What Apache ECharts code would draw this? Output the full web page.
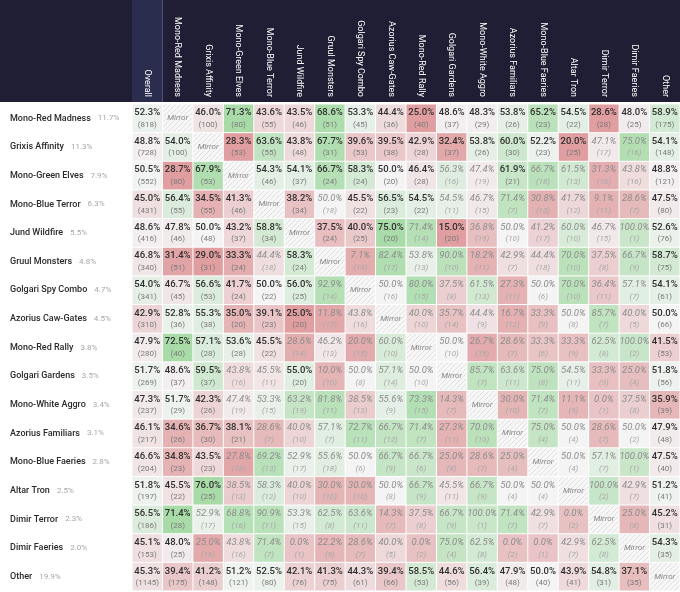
<!DOCTYPE html>
<html>
<head>
<meta charset="utf-8">
<script src="https://cdn.jsdelivr.net/npm/echarts@6/dist/echarts.min.js"></script>
<style>
  html, body { margin: 0; padding: 0; background: #fff; }
  #chart { width: 680px; height: 592px; }
</style>
</head>
<body>
<div id="chart"></div>
<script>
const decks = [
  'Mono-Red Madness', 'Grixis Affinity', 'Mono-Green Elves', 'Mono-Blue Terror',
  'Jund Wildfire', 'Gruul Monsters', 'Golgari Spy Combo', 'Azorius Caw-Gates',
  'Mono-Red Rally', 'Golgari Gardens', 'Mono-White Aggro', 'Azorius Familiars',
  'Mono-Blue Faeries', 'Altar Tron', 'Dimir Terror', 'Dimir Faeries'
];
const rowNames = decks.concat(['Other']);
const colNames = ['Overall'].concat(decks, ['Other']);
const metaShare = ['11.7%', '11.3%', '7.9%', '6.3%', '5.5%', '4.8%', '4.7%', '4.5%',
  '3.8%', '3.5%', '3.4%', '3.1%', '2.8%', '2.5%', '2.3%', '2.0%', '19.9%'];

// win rate per row deck vs column (null = mirror)
const winRate = [
  [52.3, null, 46.0, 71.3, 43.6, 43.5, 68.6, 53.3, 44.4, 25.0, 48.6, 48.3, 53.8, 65.2, 54.5, 28.6, 48.0, 58.9],
  [48.8, 54.0, null, 28.3, 63.6, 43.8, 67.7, 39.6, 39.5, 42.9, 32.4, 53.8, 60.0, 52.2, 20.0, 47.1, 75.0, 54.1],
  [50.5, 28.7, 67.9, null, 54.3, 54.1, 66.7, 58.3, 50.0, 46.4, 56.3, 47.4, 61.9, 66.7, 61.5, 31.3, 43.8, 48.8],
  [45.0, 56.4, 34.5, 41.3, null, 38.2, 50.0, 45.5, 56.5, 54.5, 54.5, 46.7, 71.4, 30.8, 41.7, 9.1, 28.6, 47.5],
  [48.6, 47.8, 50.0, 43.2, 58.8, null, 37.5, 40.0, 75.0, 71.4, 15.0, 36.8, 50.0, 41.2, 60.0, 46.7, 100.0, 52.6],
  [46.8, 31.4, 29.0, 33.3, 44.4, 58.3, null, 7.1, 82.4, 53.8, 90.0, 18.2, 42.9, 44.4, 70.0, 37.5, 66.7, 58.7],
  [54.0, 46.7, 56.6, 41.7, 50.0, 56.0, 92.9, null, 50.0, 80.0, 37.5, 61.5, 27.3, 50.0, 70.0, 36.4, 57.1, 54.1],
  [42.9, 52.8, 55.3, 35.0, 39.1, 25.0, 11.8, 43.8, null, 40.0, 35.7, 44.4, 16.7, 33.3, 50.0, 85.7, 40.0, 50.0],
  [47.9, 72.5, 57.1, 53.6, 45.5, 28.6, 46.2, 20.0, 60.0, null, 50.0, 26.7, 28.6, 33.3, 33.3, 62.5, 100.0, 41.5],
  [51.7, 48.6, 59.5, 43.8, 45.5, 55.0, 10.0, 50.0, 57.1, 50.0, null, 85.7, 63.6, 75.0, 54.5, 33.3, 25.0, 51.8],
  [47.3, 51.7, 42.3, 47.4, 53.3, 63.2, 81.8, 38.5, 55.6, 73.3, 14.3, null, 30.0, 71.4, 11.1, 0.0, 37.5, 35.9],
  [46.1, 34.6, 36.7, 38.1, 28.6, 40.0, 57.1, 72.7, 66.7, 71.4, 27.3, 70.0, null, 75.0, 50.0, 28.6, 50.0, 47.9],
  [46.6, 34.8, 43.5, 27.8, 69.2, 52.9, 55.6, 50.0, 66.7, 66.7, 25.0, 28.6, 25.0, null, 50.0, 57.1, 100.0, 47.5],
  [51.8, 45.5, 76.0, 38.5, 58.3, 40.0, 30.0, 30.0, 50.0, 66.7, 45.5, 66.7, 50.0, 50.0, null, 100.0, 42.9, 51.2],
  [56.5, 71.4, 52.9, 68.8, 90.9, 53.3, 62.5, 63.6, 14.3, 37.5, 66.7, 100.0, 71.4, 42.9, 0.0, null, 25.0, 45.2],
  [45.1, 48.0, 25.0, 43.8, 71.4, 0.0, 22.2, 28.6, 40.0, 0.0, 75.0, 62.5, 0.0, 0.0, 42.9, 62.5, null, 54.3],
  [45.3, 39.4, 41.2, 51.2, 52.5, 42.1, 41.3, 44.3, 39.4, 58.5, 44.6, 56.4, 47.9, 50.0, 43.9, 54.8, 37.1, null]
];

// number of matches behind each win rate
const matches = [
  [818, null, 100, 80, 55, 46, 51, 45, 36, 40, 37, 29, 26, 23, 22, 28, 25, 175],
  [728, 100, null, 53, 55, 48, 31, 53, 38, 28, 37, 26, 30, 23, 25, 17, 16, 148],
  [552, 80, 53, null, 46, 37, 24, 24, 20, 28, 16, 19, 21, 18, 13, 16, 16, 121],
  [431, 55, 55, 46, null, 34, 18, 22, 23, 22, 11, 15, 7, 13, 12, 11, 7, 80],
  [416, 46, 48, 37, 34, null, 24, 25, 20, 14, 20, 19, 10, 17, 10, 15, 1, 76],
  [340, 51, 31, 24, 18, 24, null, 14, 17, 13, 10, 11, 7, 18, 10, 8, 9, 75],
  [341, 45, 53, 24, 22, 25, 14, null, 16, 15, 8, 13, 11, 6, 10, 11, 7, 61],
  [310, 36, 38, 20, 23, 20, 17, 16, null, 10, 14, 9, 12, 9, 8, 7, 5, 66],
  [280, 40, 28, 28, 22, 14, 13, 15, 10, null, 10, 15, 7, 6, 9, 8, 2, 53],
  [269, 37, 37, 16, 11, 20, 10, 8, 14, 10, null, 7, 11, 8, 11, 9, 4, 56],
  [237, 29, 26, 19, 15, 19, 11, 13, 9, 15, 7, null, 10, 7, 9, 1, 8, 39],
  [217, 26, 30, 21, 7, 10, 7, 11, 12, 7, 11, 10, null, 4, 4, 7, 2, 48],
  [204, 23, 23, 18, 13, 17, 18, 6, 9, 6, 8, 7, 4, null, 4, 7, 1, 40],
  [197, 22, 25, 13, 12, 10, 10, 10, 8, 9, 11, 9, 4, 4, null, 2, 7, 41],
  [186, 28, 17, 16, 11, 15, 8, 11, 7, 8, 9, 1, 7, 7, 2, null, 8, 31],
  [153, 25, 16, 16, 7, 1, 9, 7, 5, 2, 4, 8, 2, 1, 7, 8, null, 35],
  [1145, 175, 148, 121, 80, 76, 75, 61, 66, 53, 56, 39, 48, 40, 41, 31, 35, null]
];

const FONT = 'Roboto, "Noto Sans", sans-serif';
const NEUTRAL = [244, 244, 245];
const GREEN = [168, 219, 168];
const RED = [224, 158, 160];

function cellColor(p, n) {
  let t = Math.max(-1, Math.min(1, (p - 50) / 20));
  if (n < 20) t *= 0.55 + 0.02 * n;   // small samples are faded
  const target = t >= 0 ? GREEN : RED;
  const a = Math.abs(t);
  return 'rgb(' + NEUTRAL.map((v, i) => Math.round(v + (target[i] - v) * a)).join(',') + ')';
}

// hatch pattern for mirror cells
const hatch = document.createElement('canvas');
hatch.width = hatch.height = 5;
const g = hatch.getContext('2d');
g.fillStyle = '#f7f7f7';
g.fillRect(0, 0, 5, 5);
g.strokeStyle = '#d9d9d9';
g.lineWidth = 0.8;
g.beginPath();
g.moveTo(0, 5); g.lineTo(5, 0);
g.moveTo(-1, 1); g.lineTo(1, -1);
g.moveTo(4, 6); g.lineTo(6, 4);
g.stroke();

const cells = [];
rowNames.forEach((r, ri) => colNames.forEach((c, ci) => cells.push([ci, ri])));

function renderCell(params, api) {
  const c = api.value(0), r = api.value(1);
  const pt = api.coord([c, r]);
  const sz = api.size([1, 1]);
  const p = winRate[r][c], n = matches[r][c];
  const rect = {
    type: 'rect',
    shape: { x: pt[0] - sz[0] / 2 + 0.5, y: pt[1] - sz[1] / 2 + 0.5, width: sz[0] - 1, height: sz[1] - 1 },
    style: { fill: p == null ? { image: hatch, repeat: 'repeat' } : cellColor(p, n) }
  };
  let text;
  if (p == null) {
    text = {
      type: 'text',
      style: { text: 'Mirror', x: pt[0], y: pt[1], align: 'center', verticalAlign: 'middle',
        fontFamily: FONT, fontSize: 8, fontStyle: 'italic', fill: '#8a8a8a' }
    };
  } else {
    const low = n < 20;
    text = {
      type: 'text',
      style: {
        text: '{p|' + p.toFixed(1) + '%}\n{n|(' + n + ')}',
        x: pt[0], y: pt[1], align: 'center', verticalAlign: 'middle',
        rich: {
          p: { fontFamily: FONT, fontSize: 9.5, lineHeight: 13, fontWeight: low ? 'normal' : 500,
               fontStyle: low ? 'italic' : 'normal', fill: low ? '#8c8c8c' : '#2e2e2e', align: 'center' },
          n: { fontFamily: FONT, fontSize: 8, lineHeight: 11,
               fontStyle: low ? 'italic' : 'normal', fill: low ? '#a8a8a8' : '#7a7a7a', align: 'center' }
        }
      }
    };
  }
  return { type: 'group', children: [rect, text] };
}

function renderHeader(params, api) {
  const cs = params.coordSys;
  const pt = api.coord([0, 0]);
  const sz = api.size([1, 1]);
  const x0 = pt[0] - sz[0] / 2;
  return {
    type: 'group',
    children: [
      { type: 'rect', shape: { x: 0, y: 0, width: cs.x + cs.width, height: cs.y - 2 }, style: { fill: '#1f1e34' } },
      { type: 'rect', shape: { x: x0, y: 0, width: sz[0], height: cs.y - 2 }, style: { fill: '#2b2d4e' } },
      { type: 'line', shape: { x1: x0 + sz[0], y1: 0, x2: x0 + sz[0], y2: cs.y - 2 }, style: { stroke: '#505378', lineWidth: 1 } }
    ]
  };
}

const chart = echarts.init(document.getElementById('chart'));
chart.setOption({
  backgroundColor: '#fff',
  animation: false,
  grid: { left: 132, right: 0, top: 104, bottom: 1 },
  xAxis: {
    type: 'category',
    data: colNames,
    position: 'top',
    z: 10,
    axisLine: { show: false },
    axisTick: { show: false },
    axisLabel: { rotate: 90, color: '#ffffff', fontSize: 9, fontFamily: FONT, margin: 7, interval: 0 }
  },
  yAxis: {
    type: 'category',
    data: rowNames,
    inverse: true,
    axisLine: { show: false },
    axisTick: { show: false },
    axisLabel: {
      interval: 0,
      align: 'left',
      margin: 122,
      formatter: (v, i) => '{n|' + v + '}{s|' + metaShare[i] + '}',
      rich: {
        n: { fontSize: 9, fontWeight: 500, color: '#2a2a2a', fontFamily: FONT },
        s: { fontSize: 8, color: '#a6a6a6', fontFamily: FONT, padding: [0, 0, 0, 7] }
      }
    }
  },
  series: [
    { type: 'custom', name: 'header', z: 1, clip: false, silent: true, renderItem: renderHeader, data: [[0, 0]] },
    { type: 'custom', name: 'matchups', z: 2, renderItem: renderCell, data: cells }
  ]
});
</script>
</body>
</html>
